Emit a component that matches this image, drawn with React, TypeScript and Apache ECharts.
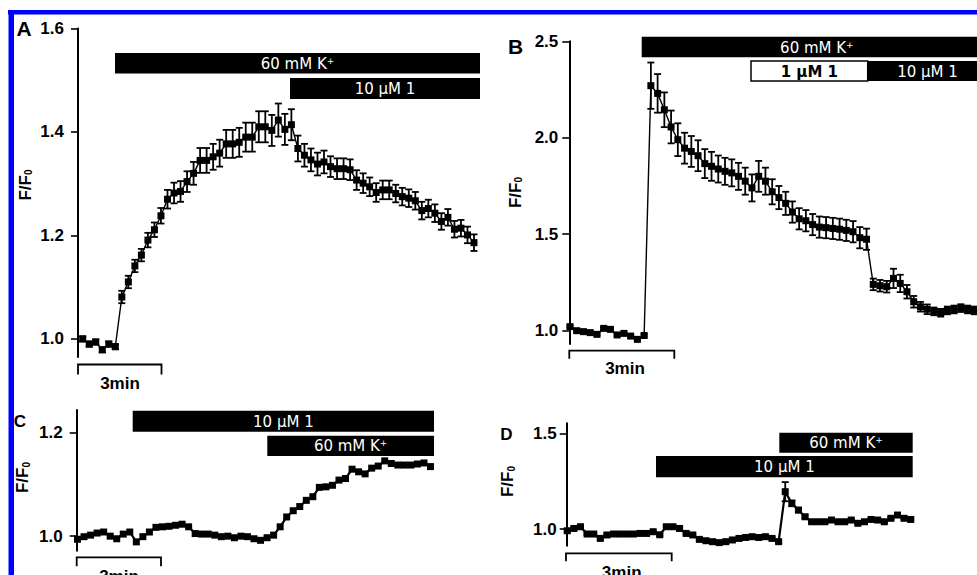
import React, { useEffect, useRef } from "react";
import * as echarts from "echarts";

// ---------- data ----------
const ticksA = [1.0, 1.2, 1.4, 1.6];
const ticksB = [1.0, 1.5, 2.0, 2.5];
const ticksC = [1.0, 1.2];
const ticksD = [1.0, 1.5];

const valuesA = [
  1.0, 0.99, 0.994, 0.979, 0.99, 0.985, 1.081, 1.11, 1.141, 1.162, 1.191, 1.211, 1.238, 1.27, 1.282, 1.285,
  1.304, 1.32, 1.345, 1.345, 1.352, 1.359, 1.377, 1.377, 1.38, 1.39, 1.39, 1.41, 1.41, 1.403, 1.423, 1.405,
  1.414, 1.368, 1.355, 1.346, 1.338, 1.342, 1.333, 1.329, 1.329, 1.327, 1.307, 1.301, 1.294, 1.283, 1.288,
  1.288, 1.281, 1.275, 1.272, 1.267, 1.248, 1.252, 1.243, 1.227, 1.235, 1.212, 1.214, 1.201, 1.186,
];
const errA = [
  0.005, 0.005, 0.005, 0.005, 0.005, 0.005, 0.012, 0.012, 0.012, 0.012, 0.014, 0.014, 0.015, 0.018, 0.02, 0.02,
  0.02, 0.022, 0.024, 0.024, 0.025, 0.026, 0.027, 0.027, 0.028, 0.028, 0.028, 0.03, 0.03, 0.03, 0.032, 0.03,
  0.03, 0.025, 0.022, 0.022, 0.022, 0.022, 0.02, 0.02, 0.02, 0.02, 0.019, 0.019, 0.018, 0.018, 0.018,
  0.018, 0.017, 0.017, 0.017, 0.017, 0.017, 0.017, 0.017, 0.016, 0.016, 0.016, 0.016, 0.016, 0.016,
];

const valuesB = [
  1.021, 1.0, 0.995, 0.99, 0.981, 1.012, 1.007, 0.978, 0.986, 0.972, 0.955, 0.975,
  2.27, 2.23, 2.145, 2.056, 1.99, 1.946, 1.929, 1.907, 1.866, 1.852, 1.838, 1.826, 1.818, 1.8, 1.775, 1.74,
  1.8, 1.775, 1.72, 1.69, 1.66, 1.615, 1.58, 1.57, 1.55, 1.537, 1.534, 1.53, 1.526, 1.52, 1.513, 1.482, 1.474,
  1.24, 1.233, 1.228, 1.271, 1.245, 1.202, 1.15, 1.124, 1.111, 1.1, 1.093, 1.105, 1.11, 1.117, 1.11, 1.105, 1.11,
];
const errB = [
  0.006, 0.006, 0.006, 0.006, 0.006, 0.006, 0.006, 0.006, 0.006, 0.006, 0.006, 0.006,
  0.12, 0.1, 0.09, 0.085, 0.085, 0.08, 0.08, 0.08, 0.075, 0.075, 0.07, 0.07, 0.07, 0.07, 0.07, 0.07,
  0.08, 0.07, 0.065, 0.06, 0.06, 0.055, 0.055, 0.055, 0.055, 0.055, 0.055, 0.055, 0.055, 0.055, 0.055, 0.055, 0.055,
  0.03, 0.03, 0.03, 0.05, 0.045, 0.035, 0.03, 0.025, 0.025, 0.02, 0.02, 0.02, 0.02, 0.02, 0.02, 0.02, 0.02,
];

const valuesC = [
  0.994, 0.999, 1.002, 1.006, 1.008, 1.0, 0.995, 1.004, 1.008, 0.989, 0.999, 1.008, 1.017, 1.018, 1.019,
  1.021, 1.023, 1.018, 1.005, 1.004, 1.004, 1.002, 0.999, 1.0, 0.997, 1.0, 0.999, 0.995, 0.992, 0.997,
  1.002, 1.018, 1.037, 1.049, 1.057, 1.069, 1.076, 1.094, 1.095, 1.098, 1.108, 1.111, 1.129, 1.124, 1.12,
  1.131, 1.135, 1.145, 1.14, 1.137, 1.137, 1.137, 1.139, 1.141, 1.134,
];

const valuesD = [
  0.991, 1.003, 1.012, 0.974, 0.974, 0.951, 0.969, 0.974, 0.974, 0.974, 0.974, 0.977, 0.977, 0.986, 0.97,
  1.012, 1.012, 1.003, 0.977, 0.969, 0.946, 0.939, 0.934, 0.929, 0.934, 0.943, 0.951, 0.956, 0.96, 0.956,
  0.96, 0.951, 0.934, 1.195, 1.134, 1.099, 1.064, 1.038, 1.038, 1.038, 1.047, 1.038, 1.038, 1.047, 1.03,
  1.038, 1.05, 1.047, 1.038, 1.056, 1.073, 1.056, 1.05,
];
const errD = [
  0.006, 0.006, 0.006, 0.006, 0.006, 0.006, 0.006, 0.006, 0.006, 0.006, 0.006, 0.006, 0.006, 0.006, 0.006,
  0.006, 0.006, 0.006, 0.006, 0.006, 0.006, 0.006, 0.006, 0.006, 0.006, 0.006, 0.006, 0.006, 0.006, 0.006,
  0.006, 0.006, 0.006, 0.05, 0.015, 0.012, 0.008, 0.006, 0.006, 0.006, 0.006, 0.006, 0.006, 0.006, 0.006,
  0.006, 0.006, 0.006, 0.006, 0.006, 0.006, 0.006, 0.006,
];

const yName = "F/F{sub|0}";
const scaleText = "3min";
const labelK = "60 mM K{sup|+}";
const label10 = "10 μM 1";
const label1 = "1 μM 1";

// ---------- layout / style ----------
const FONT = "'Liberation Sans', Arial, Helvetica, sans-serif";
const BARFONT = "'DejaVu Sans', 'Liberation Sans', sans-serif";

type Panel = {
  values: number[];
  errors: number[] | null;
  ticks: number[];
  grid: { left: number; top: number; width: number; height: number };
  min: number;
  max: number;
  offset: number;
  margin: number;
  symbolSize: number;
  lineWidth: number;
};

const panels: Panel[] = [
  { values: valuesA, errors: errA, ticks: ticksA, grid: { left: 82.7, top: 28.5, width: 391.3, height: 328.5 }, min: 0.965, max: 1.6, offset: 4.7, margin: 14, symbolSize: 7, lineWidth: 1.4 },
  { values: valuesB, errors: errB, ticks: ticksB, grid: { left: 570, top: 41.3, width: 411.1, height: 302.7 }, min: 0.931, max: 2.5, offset: 0.7, margin: 11, symbolSize: 7, lineWidth: 1.4 },
  { values: valuesC, errors: null, ticks: ticksC, grid: { left: 77.5, top: 410, width: 353, height: 140.7 }, min: 0.972, max: 1.243, offset: 0.8, margin: 14, symbolSize: 7, lineWidth: 2.2 },
  { values: valuesD, errors: errD, ticks: ticksD, grid: { left: 567.3, top: 423.3, width: 343.4, height: 122.4 }, min: 0.913, max: 1.552, offset: 0.6, margin: 10, symbolSize: 7, lineWidth: 2.2 },
];

function barText(cx: number, cy: number, text: string, color: string, bold = false) {
  return {
    type: "text",
    x: cx,
    y: cy,
    z: 20,
    style: {
      text,
      fill: color,
      fontSize: 15,
      fontWeight: bold ? "bold" : "normal",
      fontFamily: BARFONT,
      align: "center",
      verticalAlign: "middle",
      rich: {
        sup: { fontSize: 9, verticalAlign: "top", fill: color, fontFamily: BARFONT, fontWeight: bold ? "bold" : "normal" },
      },
    },
  };
}

function bar(x1: number, y1: number, x2: number, y2: number, text: string, cx?: number, white = false) {
  const rect = {
    type: "rect",
    z: 19,
    shape: { x: x1, y: y1, width: x2 - x1, height: y2 - y1 },
    style: white ? { fill: "#fff", stroke: "#000", lineWidth: 1.5 } : { fill: "#000" },
  };
  return [rect, barText(cx ?? (x1 + x2) / 2, (y1 + y2) / 2 + 0.5, text, white ? "#000" : "#fff", white)];
}

function scaleBar(x1: number, x2: number, y: number, tick: number, tx: number, ty: number) {
  return [
    {
      type: "polyline",
      z: 20,
      shape: { points: [[x1, y + tick], [x1, y], [x2, y], [x2, y + tick]] },
      style: { stroke: "#000", lineWidth: 1.8, fill: "none" },
    },
    {
      type: "text",
      x: tx,
      y: ty,
      z: 20,
      style: { text: scaleText, fill: "#000", fontSize: 17, fontWeight: "bold", fontFamily: FONT, align: "center", verticalAlign: "middle" },
    },
  ];
}

function axisName(x: number, y: number) {
  return {
    type: "text",
    x,
    y,
    rotation: Math.PI / 2,
    z: 20,
    style: {
      text: yName,
      fill: "#000",
      fontSize: 17,
      fontWeight: "bold",
      fontFamily: FONT,
      align: "center",
      verticalAlign: "middle",
      rich: { sub: { fontSize: 10, fontWeight: "bold", fontFamily: FONT, verticalAlign: "bottom", fill: "#000" } },
    },
  };
}

function panelLabel(x: number, y: number, text: string, size: number) {
  return {
    type: "text",
    x,
    y,
    z: 20,
    style: { text, fill: "#000", fontSize: size, fontWeight: "bold", fontFamily: FONT, align: "center", verticalAlign: "middle" },
  };
}

export default function App() {
  const ref = useRef<HTMLDivElement>(null);

  useEffect(() => {
    if (!ref.current) return;
    const chart = echarts.init(ref.current, null, { renderer: "svg" });

    const grids = panels.map((p) => ({ ...p.grid, containLabel: false, outerBoundsMode: "none" }));
    const xAxes = panels.map((p, k) => ({ gridIndex: k, type: "value", min: 0, max: p.values.length - 1, show: false }));
    const yAxes = panels.map((p, k) => ({
      gridIndex: k,
      type: "value",
      min: p.min,
      max: p.max,
      offset: p.offset,
      axisLine: { show: true, onZero: false, lineStyle: { color: "#000", width: 2 } },
      axisTick: { show: true, length: 7, inside: false, customValues: p.ticks, lineStyle: { color: "#000", width: 1.6 } },
      axisLabel: {
        show: true,
        customValues: p.ticks,
        formatter: (v: number) => v.toFixed(1),
        color: "#000",
        fontSize: 17,
        fontWeight: "bold",
        fontFamily: FONT,
        margin: p.margin,
      },
      splitLine: { show: false },
    }));

    const series: any[] = [];
    panels.forEach((p, k) => {
      if (p.errors) {
        const errs = p.errors;
        series.push({
          type: "custom",
          xAxisIndex: k,
          yAxisIndex: k,
          silent: true,
          z: 2,
          encode: { x: 0, y: [1, 2] },
          data: p.values.map((v, i) => [i, v - errs[i], v + errs[i]]),
          renderItem: (_params: any, api: any) => {
            const x = api.value(0);
            const lo = api.coord([x, api.value(1)]);
            const hi = api.coord([x, api.value(2)]);
            const w = 3.5;
            const st = { stroke: "#000", lineWidth: 1.8 };
            return {
              type: "group",
              children: [
                { type: "line", shape: { x1: lo[0], y1: lo[1], x2: hi[0], y2: hi[1] }, style: st },
                { type: "line", shape: { x1: lo[0] - w, y1: lo[1], x2: lo[0] + w, y2: lo[1] }, style: st },
                { type: "line", shape: { x1: hi[0] - w, y1: hi[1], x2: hi[0] + w, y2: hi[1] }, style: st },
              ],
            };
          },
        });
      }
      series.push({
        type: "line",
        xAxisIndex: k,
        yAxisIndex: k,
        silent: true,
        z: 3,
        data: p.values.map((v, i) => [i, v]),
        symbol: "rect",
        symbolSize: p.symbolSize,
        showSymbol: true,
        lineStyle: { color: "#000", width: p.lineWidth },
        itemStyle: { color: "#000" },
      });
    });

    const graphic: any[] = [
      // blue frame
      { type: "rect", z: 30, shape: { x: 8, y: 10, width: 980, height: 4.5 }, style: { fill: "#0000ff" } },
      { type: "rect", z: 30, shape: { x: 8.5, y: 10, width: 5.5, height: 580 }, style: { fill: "#0000ff" } },
      // panel labels
      panelLabel(24, 28.5, "A", 21),
      panelLabel(515.5, 46, "B", 21),
      panelLabel(20, 421.5, "C", 17),
      panelLabel(506.5, 434.5, "D", 17),
      // axis names
      axisName(25, 185),
      axisName(515, 192.5),
      axisName(22.5, 477.5),
      axisName(507.5, 481.5),
      // treatment bars
      ...bar(115, 53, 480, 73.5, labelK),
      ...bar(290, 78, 480, 99, label10),
      ...bar(641.7, 36.7, 992, 57.3, labelK),
      ...bar(751, 61, 867.7, 81, label1, undefined, true),
      ...bar(867.7, 61, 992, 81, label10, 927.5),
      ...bar(132.7, 410.7, 434, 431.7, label10),
      ...bar(267.3, 435.7, 434, 456, labelK),
      ...bar(779.3, 432.7, 912.7, 452.7, labelK),
      ...bar(656, 456, 912.7, 477.3, label10),
      // scale bars
      ...scaleBar(78, 161.5, 364.5, 10, 120, 383),
      ...scaleBar(569.3, 674.3, 350.7, 8, 625, 368.5),
      ...scaleBar(76.7, 161, 557.3, 9, 119, 576),
      ...scaleBar(566, 671.7, 553.3, 8, 621.7, 572.5),
    ];

    chart.setOption({
      animation: false,
      backgroundColor: "#fff",
      grid: grids,
      xAxis: xAxes,
      yAxis: yAxes,
      series,
      graphic,
    });

    return () => chart.dispose();
  }, []);

  return (
    <div
      ref={ref}
      style={{ position: "fixed", left: 0, top: 0, width: 977, height: 575, background: "#fff" }}
    />
  );
}
